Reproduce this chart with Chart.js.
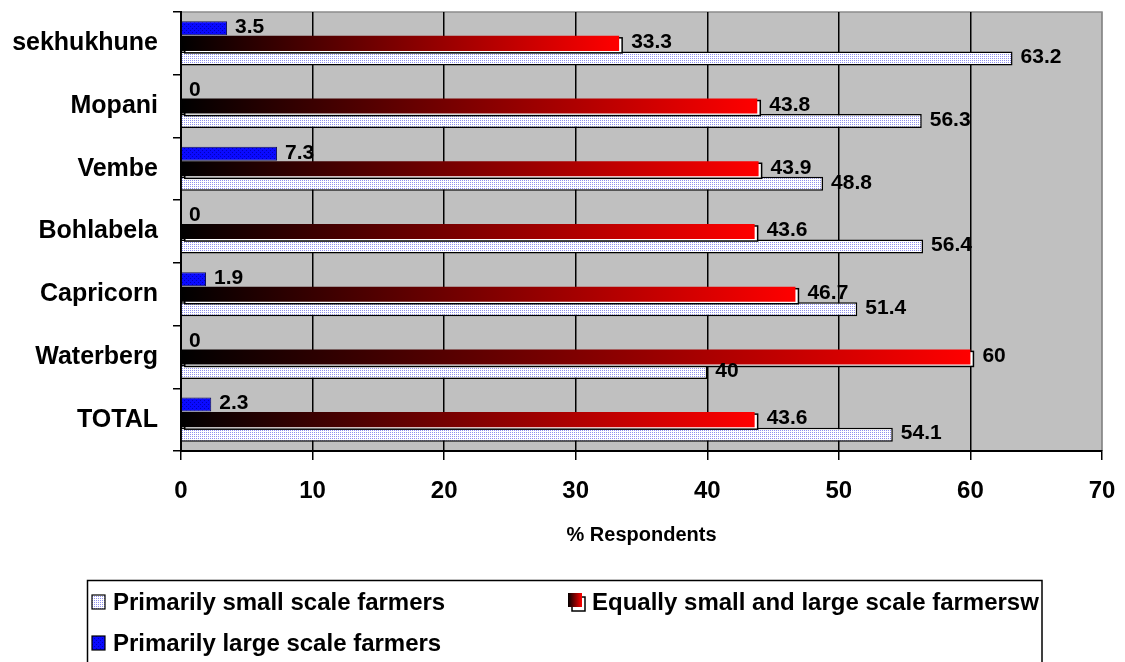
<!DOCTYPE html>
<html lang="en">
<head>
    <meta charset="UTF-8">
    <title>% Respondents by district</title>
    <script src="https://cdn.jsdelivr.net/npm/chart.js"></script>
    <style>
        body { margin: 0; background: #fff; }
        #wrap { width: 1125px; height: 662px; position: relative; }
    </style>
</head>
<body>
    <div id="wrap"><canvas id="chart"></canvas></div>

    <script>
        // values
        const districts = ['sekhukhune', 'Mopani', 'Vembe', 'Bohlabela', 'Capricorn', 'Waterberg', 'TOTAL'];
        const smallScale = [63.2, 56.3, 48.8, 56.4, 51.4, 40, 54.1];
        const equalScale = [33.3, 43.8, 43.9, 43.6, 46.7, 60, 43.6];
        const largeScale = [3.5, 0, 7.3, 0, 1.9, 0, 2.3];
        const xTicks = [0, 10, 20, 30, 40, 50, 60, 70];

        const FONT = 'Liberation Sans, Arial, sans-serif';

        // little fill patterns like the old excel ones
        function makePattern(bg, dot, n) {
            const p = document.createElement('canvas');
            p.width = 4; p.height = 4;
            const c = p.getContext('2d');
            c.fillStyle = bg;
            c.fillRect(0, 0, 4, 4);
            c.fillStyle = dot;
            c.fillRect(0, 0, 1, 1);
            c.fillRect(2, 2, 1, 1);
            if (n > 2) {
                c.fillRect(2, 0, 1, 1);
                c.fillRect(0, 2, 1, 1);
            }
            return c.createPattern(p, 'repeat');
        }
        const dotFill = makePattern('#ffffff', '#9090ee', 4);
        const blueFill = makePattern('#0a0aff', '#0000b8', 2);

        function redGradient(c) {
            const chart = c.chart;
            if (!chart.chartArea) return '#ff0000';
            const xs = chart.scales.x;
            const x0 = xs.getPixelForValue(0);
            const x1 = xs.getPixelForValue(c.raw);
            if (x1 - x0 < 1) return '#000000';
            const g = chart.ctx.createLinearGradient(x0, 0, x1, 0);
            g.addColorStop(0, '#000000');
            g.addColorStop(1, '#ff0000');
            return g;
        }

        const plotBg = {
            id: 'plotBg',
            beforeDraw(chart) {
                const a = chart.chartArea;
                const ctx = chart.ctx;
                ctx.save();
                ctx.fillStyle = '#c0c0c0';
                ctx.fillRect(a.left, a.top, a.right - a.left, a.bottom - a.top);
                ctx.strokeStyle = '#8c8c8c';
                ctx.lineWidth = 1.5;
                ctx.beginPath();
                ctx.moveTo(a.left, a.top);
                ctx.lineTo(a.right, a.top);
                ctx.lineTo(a.right, a.bottom);
                ctx.stroke();
                ctx.restore();
            }
        };

        // offset outline behind the red bars (3d look)
        const redShadow = {
            id: 'redShadow',
            beforeDatasetDraw(chart, args) {
                if (args.index !== 1) return;
                const ctx = chart.ctx;
                ctx.save();
                args.meta.data.forEach(bar => {
                    const p = bar.getProps(['x', 'y', 'base', 'height'], true);
                    const w = p.x - p.base;
                    ctx.fillStyle = '#ffffff';
                    ctx.fillRect(p.base + 3, p.y - p.height / 2 + 2, w, p.height);
                    ctx.strokeStyle = '#000';
                    ctx.lineWidth = 1.5;
                    ctx.strokeRect(p.base + 3, p.y - p.height / 2 + 2, w, p.height);
                });
                ctx.restore();
            }
        };

        const valueLabels = {
            id: 'valueLabels',
            afterDatasetsDraw(chart) {
                const ctx = chart.ctx;
                ctx.save();
                ctx.font = 'bold 21px ' + FONT;
                ctx.fillStyle = '#000';
                ctx.textBaseline = 'middle';
                ctx.textAlign = 'left';
                chart.data.datasets.forEach((ds, i) => {
                    const meta = chart.getDatasetMeta(i);
                    const gap = i === 1 ? 12 : 8;
                    meta.data.forEach((bar, j) => {
                        ctx.fillText(String(ds.data[j]), bar.x + gap, bar.y - 1);
                    });
                });
                ctx.restore();
            }
        };

        // legend drawn by hand, same order as the original (reversed)
        const boxLegend = {
            id: 'boxLegend',
            afterDraw(chart) {
                const ctx = chart.ctx;
                const ds = chart.data.datasets;
                ctx.save();
                ctx.strokeStyle = '#000';
                ctx.lineWidth = 1.5;
                ctx.strokeRect(87.5, 580.5, 1042 - 87.5, 120);
                ctx.font = 'bold 24px ' + FONT;
                ctx.fillStyle = '#000';
                ctx.textBaseline = 'middle';

                function box(x, y, fill) {
                    ctx.fillStyle = fill;
                    ctx.fillRect(x, y, 13, 14);
                    ctx.lineWidth = 1.2;
                    ctx.strokeStyle = '#000';
                    ctx.strokeRect(x, y, 13, 14);
                }

                // small scale
                box(92, 595, dotFill);
                ctx.fillStyle = '#000';
                ctx.fillText(ds[2].label, 113, 603);

                // equal
                ctx.fillStyle = '#fff';
                ctx.fillRect(572, 597, 13, 14);
                ctx.strokeStyle = '#000';
                ctx.lineWidth = 1.5;
                ctx.strokeRect(572, 597, 13, 14);
                const g = ctx.createLinearGradient(568, 0, 582, 0);
                g.addColorStop(0, '#000');
                g.addColorStop(1, '#ff0000');
                ctx.fillStyle = g;
                ctx.fillRect(568, 593, 14, 14);
                ctx.fillStyle = '#000';
                ctx.fillText(ds[1].label, 592, 603);

                // large scale
                box(92, 636, blueFill);
                ctx.fillStyle = '#000';
                ctx.fillText(ds[0].label, 113, 644);
                ctx.restore();
            }
        };

        new Chart(document.getElementById('chart'), {
            type: 'bar',
            data: {
                labels: districts,
                datasets: [
                    { label: 'Primarily large scale farmers', data: largeScale, backgroundColor: blueFill, borderColor: '#10105a', borderWidth: 1 },
                    { label: 'Equally small and large scale farmersw', data: equalScale, backgroundColor: redGradient, borderWidth: 0, barPercentage: 1.0 },
                    { label: 'Primarily small scale farmers', data: smallScale, backgroundColor: dotFill, borderColor: '#000', borderWidth: 1.5 }
                ]
            },
            options: {
                indexAxis: 'y',
                responsive: true,
                maintainAspectRatio: false,
                animation: false,
                categoryPercentage: 0.72,
                barPercentage: 0.93,
                layout: { padding: { left: 0, right: 23, top: 12, bottom: 115 } },
                scales: {
                    x: {
                        min: 0,
                        max: 70,
                        afterBuildTicks: s => { s.ticks = xTicks.map(v => ({ value: v })); },
                        afterFit: s => { s.height = 96; s.paddingLeft = 0; s.paddingRight = 0; },
                        grid: {
                            color: c => (c.tick && c.tick.value === 70) ? '#8c8c8c' : '#000',
                            lineWidth: 1.5,
                            tickLength: 9,
                            tickColor: '#000'
                        },
                        border: { color: '#000', width: 2 },
                        ticks: { color: '#000', font: { family: FONT, size: 24, weight: 'bold' }, padding: 17, maxRotation: 0 },
                        title: { display: true, text: '% Respondents', color: '#000', font: { family: FONT, size: 20, weight: 'bold' }, padding: 0 }
                    },
                    y: {
                        afterFit: s => { s.width = 181; s.paddingTop = 0; s.paddingBottom = 0; },
                        grid: { drawOnChartArea: false, tickLength: 8, color: '#000', lineWidth: 1.5 },
                        border: { color: '#000', width: 2 },
                        ticks: { color: '#000', autoSkip: false, font: { family: FONT, size: 25, weight: 'bold' }, padding: 15 }
                    }
                },
                plugins: {
                    legend: { display: false },
                    tooltip: { enabled: false }
                }
            },
            plugins: [plotBg, redShadow, valueLabels, boxLegend]
        });
    </script>
</body>
</html>
